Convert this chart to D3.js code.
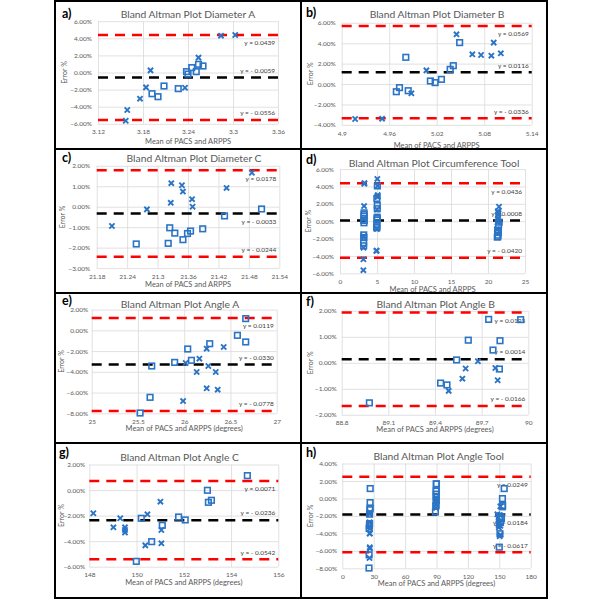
<!DOCTYPE html>
<html><head><meta charset="utf-8">
<script src="https://cdn.jsdelivr.net/npm/d3@7"></script>
<style>body{margin:0;background:#fff}svg{display:block}</style>
</head><body>
<svg id="c" width="600" height="600"></svg>
<script>
// ---------- DATA (error values in %) ----------
const diamA_sq = [[3.192,-2.48],[3.200,-2.83],[3.208,-1.58],[3.227,-1.89],[3.238,0.10],[3.240,-0.18],[3.245,0.57],[3.251,0.10],[3.254,0.96],[3.260,0.76]];
const diamA_x  = [[3.157,-5.64],[3.159,-4.39],[3.176,-3.06],[3.184,-1.74],[3.190,0.25],[3.236,-1.78],[3.254,1.74],[3.284,4.31],[3.303,4.39]];
const diamB_sq = [[4.969,-0.75],[4.973,-0.35],[4.981,2.62],[4.984,-0.65],[5.012,0.30],[5.018,0.14],[5.026,0.46],[5.037,1.44],[5.041,1.80],[5.049,4.06]];
const diamB_x  = [[4.917,-3.42],[4.951,-3.39],[4.988,-0.91],[5.007,1.34],[5.045,4.87],[5.065,2.91],[5.076,2.85],[5.089,2.78],[5.092,4.06],[5.101,3.01]];
const diamC_sq = [[21.258,-1.82],[21.321,-1.79],[21.324,-1.03],[21.334,-1.29],[21.350,-1.61],[21.359,-1.31],[21.365,-1.19],[21.389,-1.08],[21.432,-0.45],[21.505,-0.11]];
const diamC_x  = [[21.210,-0.94],[21.279,-0.13],[21.326,0.19],[21.327,1.15],[21.348,1.05],[21.350,0.74],[21.368,0.37],[21.369,0.00],[21.436,0.92],[21.486,1.66]];
const angA_sq = [[25.523,-7.97],[25.631,-6.46],[25.649,-3.44],[25.897,-3.09],[26.038,-1.80],[26.078,-2.89],[26.276,-1.29],[26.575,-0.48],[26.665,-1.12],[26.665,1.13]];
const angA_x  = [[25.988,-6.82],[26.016,-3.15],[26.135,-4.02],[26.164,-2.73],[26.243,-1.77],[26.243,-5.59],[26.261,-3.44],[26.341,-4.02],[26.362,-5.72],[26.427,-1.61]];
const angB_sq = [[88.978,-1.54],[89.436,-0.78],[89.477,-0.85],[89.539,0.11],[89.614,0.87],[89.745,1.67],[89.773,0.49],[89.814,-0.24],[89.818,0.85],[89.951,1.66]];
const angB_x  = [[89.488,-1.08],[89.576,-0.61],[89.597,-0.22],[89.676,0.06],[89.788,-0.20],[89.803,-0.67]];
const angC_sq = [[149.99,-5.58],[150.20,-2.21],[150.64,-4.04],[151.09,-2.76],[151.78,-2.11],[152.06,-2.34],[153.00,-0.02],[153.04,-0.96],[153.17,-0.80],[154.69,1.13]];
const angC_x  = [[148.17,-1.82],[149.02,-2.92],[149.31,-2.21],[149.51,-2.92],[149.51,-3.13],[149.51,-3.33],[150.37,-4.33],[150.46,-1.90],[151.01,-0.91],[151.05,-3.13],[151.05,-4.17]];

const titles = ["Bland Altman Plot Diameter A","Bland Altman Plot Diameter B","Bland Altman Plot Diameter C","Bland Altman Plot Circumference Tool","Bland Altman Plot Angle A","Bland Altman Plot Angle B","Bland Altman Plot Angle C","Bland Altman Plot Angle Tool"];
const letters = ["a)","b)","c)","d)","e)","f)","g)","h)"];
const xTitles = ["Mean of PACS and ARPPS","Mean of PACS and ARPPS","Mean of PACS and ARPPS","Mean of PACS and ARPPS","Mean of PACS and ARPPS (degrees)","Mean of PACS and ARPPS (degrees)","Mean of PACS and ARPPS (degrees)","Mean of PACS and ARPPS (degrees)"];
const xTicks = [[3.12,3.18,3.24,3.30,3.36],[4.90,4.96,5.02,5.08,5.14],[21.18,21.24,21.30,21.36,21.42,21.48,21.54],[0,5,10,15,20,25],[25,25.5,26,26.5,27],[88.8,89.1,89.4,89.7,90],[148,150,152,154,156],[0,30,60,90,120,150,180]];
const yTicks = [[6,4,2,0,-2,-4,-6],[6,4,2,0,-2,-4],[2,1,0,-1,-2,-3],[6,4,2,0,-2,-4,-6],[2,0,-2,-4,-6,-8],[2,1,0,-1,-2],[2,0,-2,-4,-6],[4,2,0,-2,-4,-6,-8]];
const limits = [[0.0439,-0.0059,-0.0556],[0.0569,0.0116,-0.0336],[0.0178,-0.0033,-0.0244],[0.0436,0.0008,-0.0420],[0.0119,-0.0330,-0.0778],[0.0193,0.0014,-0.0166],[0.0071,-0.0236,-0.0542],[0.0249,-0.0184,-0.0617]];
const squares = [diamA_sq, diamB_sq, diamC_sq, diamA_sq.concat(diamB_sq, diamC_sq), angA_sq, angB_sq, angC_sq, angA_sq.concat(angB_sq, angC_sq)];
const crosses = [diamA_x, diamB_x, diamC_x, diamA_x.concat(diamB_x, diamC_x), angA_x, angB_x, angC_x, angA_x.concat(angB_x, angC_x)];

// ---------- LAYOUT ----------
const layout = [
 {l:98,r:278,t:21.2,b:123.8, tx:188,ty:14, lx:62,ly:17.5, xty:141, yx:64, pad:6, pos:[1,-1,-1]},
 {l:341.7,r:531.7,t:22.8,b:124.9, tx:437,ty:14, lx:306,ly:17, xty:145, yx:310, pad:6, pos:[1,-1,-1]},
 {l:96.7,r:279.3,t:165.8,b:268.1, tx:194,ty:158.7, lx:62,ly:162, xty:284.7, yx:62, pad:6.5, pos:[1,1,-1]},
 {l:340,r:525,t:169.1,b:273.3, tx:434,ty:163, lx:306,ly:164, xty:289.7, yx:308, pad:6, pos:[1,-1,-1]},
 {l:91.7,r:276.7,t:309.6,b:413.3, tx:180,ty:304.7, lx:62,ly:304.5, xty:428.7, yx:61, pad:3.5, pos:[1,-1,-1]},
 {l:341.7,r:528.3,t:310.8,b:414.8, tx:435.7,ty:304.3, lx:306,ly:305.5, xty:429.3, yx:310, pad:5, pos:[1,-1,-1]},
 {l:89.3,r:278.3,t:464.5,b:566.7, tx:179.5,ty:457.3, lx:59,ly:457, xty:582.7, yx:61, pad:4, pos:[1,-1,-1]},
 {l:342.3,r:530.7,t:463.5,b:568.3, tx:438.7,ty:456.7, lx:306,ly:457, xty:583.3, yx:310, pad:5, pos:[1,1,-1]}
];

const FONT = "Lato, 'Open Sans', sans-serif";
const BLUE = "#2b74c5";
const svg = d3.select("#c").style("font-family", FONT);
const pctFmt = d => d3.format(".2f")(d) + "%";
const numFmt = d => String(+d.toFixed(2));
const limFmt = v => "y = " + (v < 0 ? "- " + Math.abs(v).toFixed(4) : v.toFixed(4));

layout.forEach((L, i) => {
  const xt = xTicks[i], yt = yTicks[i];
  const x = d3.scaleLinear().domain([xt[0], xt[xt.length-1]]).range([L.l, L.r]);
  const y = d3.scaleLinear().domain([yt[yt.length-1], yt[0]]).range([L.b, L.t]);
  const g = svg.append("g");

  // grid + tick labels via axes
  const ax = g.append("g").attr("transform", `translate(0,${L.b})`)
    .call(d3.axisBottom(x).tickValues(xt).tickSize(-(L.b - L.t)).tickPadding(6).tickFormat(numFmt));
  const ay = g.append("g").attr("transform", `translate(${L.l},0)`)
    .call(d3.axisLeft(y).tickValues(yt).tickSize(-(L.r - L.l)).tickPadding(L.pad).tickFormat(pctFmt));
  [ax, ay].forEach(a => {
    a.select(".domain").remove();
    a.selectAll("line").attr("stroke", "#d9d9d9").attr("stroke-width", 0.8);
    a.selectAll("text").attr("fill", "#595959").style("font-size", "6.5px").style("font-family", FONT);
  });

  // limit lines
  limits[i].forEach((v, k) => {
    g.append("line").attr("x1", L.l).attr("x2", L.r).attr("y1", y(v*100)).attr("y2", y(v*100))
      .attr("stroke", k === 1 ? "#000" : "#ff0000").attr("stroke-width", 2.5)
      .attr("stroke-dasharray", "10,7");
    g.append("text").attr("x", L.r - 3).attr("y", y(v*100) + (L.pos[k] > 0 ? 8 : -7) + 2.3)
      .attr("text-anchor", "end").attr("fill", "#404040").style("font-size", "6.5px")
      .text(limFmt(v));
  });

  // markers
  g.selectAll("rect.sq").data(squares[i]).join("rect").attr("class", "sq")
    .attr("x", d => x(d[0]) - 2.8).attr("y", d => y(d[1]) - 2.8)
    .attr("width", 5.6).attr("height", 5.6)
    .attr("fill", "none").attr("stroke", BLUE).attr("stroke-width", 1.6);
  g.selectAll("path.xm").data(crosses[i]).join("path").attr("class", "xm")
    .attr("transform", d => `translate(${x(d[0])},${y(d[1])})`)
    .attr("d", "M-2.6,-2.6L2.6,2.6M-2.6,2.6L2.6,-2.6")
    .attr("stroke", BLUE).attr("stroke-width", 1.9).attr("fill", "none");

  // texts
  g.append("text").attr("x", L.tx).attr("y", L.ty + 3.6).attr("text-anchor", "middle")
    .attr("fill", "#595959").style("font-size", "10.3px").text(titles[i]);
  g.append("text").attr("x", L.lx).attr("y", L.ly).attr("fill", "#000")
    .style("font-size", "12.5px").style("font-weight", "bold").text(letters[i]);
  g.append("text").attr("x", (L.l + L.r) / 2).attr("y", L.xty + 2.6).attr("text-anchor", "middle")
    .attr("fill", "#595959").style("font-size", "7.5px").text(xTitles[i]);
  g.append("text").attr("transform", `translate(${L.yx + 2.5},${(L.t + L.b) / 2}) rotate(-90)`)
    .attr("text-anchor", "middle").attr("fill", "#595959").style("font-size", "7px").text("Error %");
});

// panel frame
svg.append("rect").attr("x", 55).attr("y", 1).attr("width", 492).attr("height", 597)
  .attr("fill", "none").attr("stroke", "#000").attr("stroke-width", 2);
svg.append("line").attr("x1", 301).attr("x2", 301).attr("y1", 0).attr("y2", 599).attr("stroke", "#000").attr("stroke-width", 2);
[149, 293, 443].forEach(yy => svg.append("line").attr("x1", 54).attr("x2", 548).attr("y1", yy).attr("y2", yy).attr("stroke", "#000").attr("stroke-width", 2));
</script>
</body></html>
